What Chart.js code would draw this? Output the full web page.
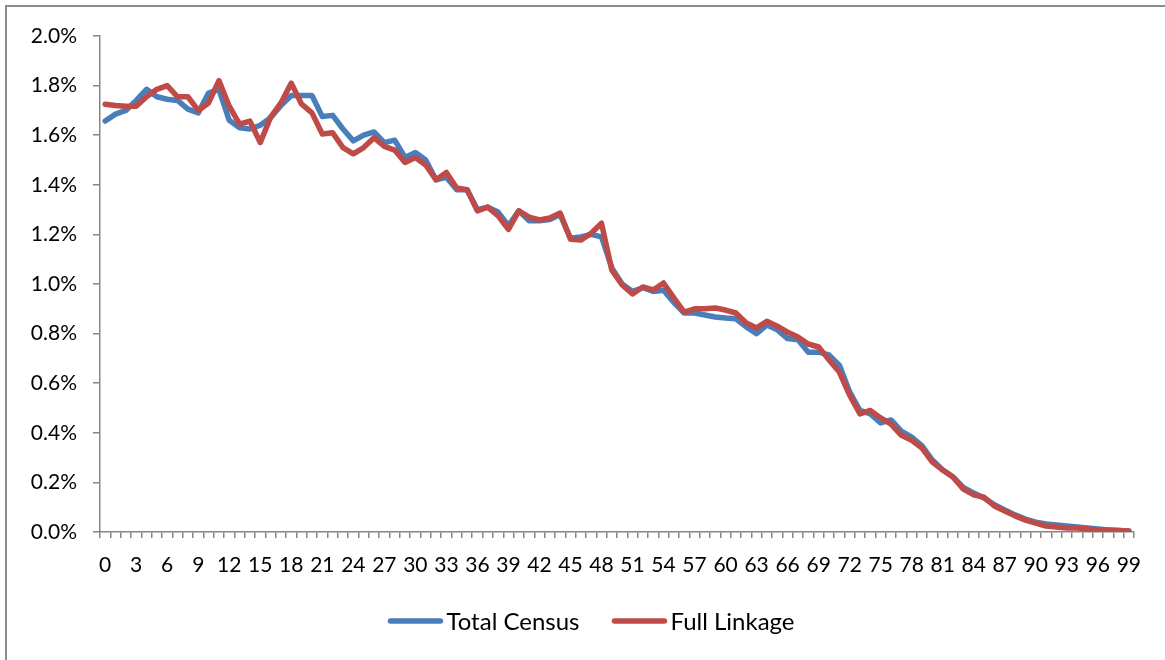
<!DOCTYPE html>
<html>
<head>
<meta charset="utf-8">
<script src="https://cdn.jsdelivr.net/npm/chart.js@4/dist/chart.umd.min.js"></script>
<style>
  html, body { margin: 0; padding: 0; background: #ffffff; }
  #wrap { width: 1165px; height: 660px; position: relative; }
</style>
</head>
<body>
<div id="wrap"><canvas id="c" width="1165" height="660"></canvas></div>
<script>
// Ages 0..99 (category labels)
const ages = Array.from({length: 100}, (_, i) => String(i));
// Tick labels shown every third age
const shownAgeLabels = ['0','3','6','9','12','15','18','21','24','27','30','33','36','39','42','45','48','51','54','57','60','63','66','69','72','75','78','81','84','87','90','93','96','99'];

const seriesNames = ['Total Census', 'Full Linkage'];
const seriesColors = ['#4a7ebb', '#be4b48'];

// Share of population at each age (%)
const totalCensus = [
  1.657, 1.685, 1.700, 1.740, 1.785, 1.755, 1.745, 1.740, 1.705, 1.690,
  1.770, 1.785, 1.660, 1.630, 1.625, 1.640, 1.670, 1.720, 1.760, 1.760,
  1.760, 1.675, 1.680, 1.625, 1.577, 1.600, 1.613, 1.570, 1.580, 1.510,
  1.530, 1.500, 1.420, 1.430, 1.380, 1.380, 1.300, 1.310, 1.290, 1.235,
  1.295, 1.255, 1.255, 1.260, 1.280, 1.185, 1.190, 1.200, 1.190, 1.065,
  1.000, 0.970, 0.985, 0.970, 0.975, 0.925, 0.883, 0.883, 0.875, 0.867,
  0.863, 0.860, 0.827, 0.800, 0.835, 0.815, 0.780, 0.775, 0.725, 0.725,
  0.714, 0.673, 0.565, 0.490, 0.476, 0.440, 0.452, 0.407, 0.383, 0.347,
  0.290, 0.250, 0.222, 0.180, 0.157, 0.137, 0.110, 0.089, 0.069, 0.052,
  0.040, 0.032, 0.028, 0.024, 0.020, 0.016, 0.012, 0.008, 0.006, 0.004
];
const fullLinkage = [
  1.725, 1.720, 1.717, 1.717, 1.755, 1.785, 1.800, 1.755, 1.755, 1.700,
  1.730, 1.820, 1.717, 1.645, 1.657, 1.570, 1.673, 1.730, 1.810, 1.725,
  1.690, 1.605, 1.610, 1.550, 1.525, 1.550, 1.590, 1.555, 1.540, 1.490,
  1.510, 1.480, 1.420, 1.450, 1.387, 1.380, 1.295, 1.310, 1.275, 1.220,
  1.295, 1.270, 1.258, 1.266, 1.286, 1.180, 1.177, 1.205, 1.245, 1.056,
  0.996, 0.960, 0.988, 0.976, 1.004, 0.944, 0.887, 0.900, 0.900, 0.903,
  0.895, 0.883, 0.843, 0.823, 0.850, 0.830, 0.806, 0.786, 0.758, 0.746,
  0.694, 0.645, 0.552, 0.476, 0.490, 0.460, 0.435, 0.390, 0.370, 0.338,
  0.282, 0.250, 0.222, 0.173, 0.150, 0.140, 0.105, 0.085, 0.065, 0.048,
  0.036, 0.024, 0.020, 0.016, 0.016, 0.012, 0.008, 0.008, 0.006, 0.004
];

const yTicks = [0, 0.2, 0.4, 0.6, 0.8, 1.0, 1.2, 1.4, 1.6, 1.8, 2.0];

const FONT = 'Lato, "Open Sans", "DejaVu Sans", sans-serif';
const AXIS = '#868686';

const framePlugin = {
  id: 'frame',
  beforeDraw(chart) {
    const ctx = chart.ctx;
    ctx.save();
    ctx.fillStyle = '#ffffff';
    ctx.fillRect(0, 0, chart.width, chart.height);
    ctx.strokeStyle = '#8c8c8c';
    ctx.lineWidth = 2;
    ctx.beginPath();
    ctx.moveTo(6, 670);
    ctx.lineTo(6, 6);
    ctx.lineTo(1170, 6);
    ctx.stroke();
    ctx.restore();
  }
};

// Legend drawn below the axis: short line swatch followed by the series name
const legendPlugin = {
  id: 'bottomLegend',
  afterDraw(chart) {
    const ctx = chart.ctx;
    const y = 621;
    const lineLen = 54, textGap = 4, itemGap = 33, centerX = 591.5;
    ctx.save();
    ctx.font = '24px ' + FONT;
    const items = chart.data.datasets.map((ds) => ({
      label: ds.label, color: ds.borderColor, w: ctx.measureText(ds.label).width
    }));
    let total = 0;
    items.forEach((it, i) => { total += lineLen + textGap + it.w + (i ? itemGap : 0); });
    let x = centerX - total / 2;
    items.forEach((it) => {
      ctx.strokeStyle = it.color;
      ctx.lineWidth = 5.5;
      ctx.lineCap = 'round';
      ctx.beginPath();
      ctx.moveTo(x + 2, y);
      ctx.lineTo(x + lineLen - 2, y);
      ctx.stroke();
      ctx.fillStyle = '#000000';
      ctx.textBaseline = 'middle';
      ctx.textAlign = 'left';
      ctx.fillText(it.label, x + lineLen + textGap, y + 1);
      x += lineLen + textGap + it.w + itemGap;
    });
    ctx.restore();
  }
};

new Chart(document.getElementById('c'), {
  type: 'line',
  data: {
    labels: ages,
    datasets: [
      {
        label: seriesNames[0],
        data: totalCensus,
        borderColor: seriesColors[0],
        backgroundColor: seriesColors[0],
        borderWidth: 5.5,
        pointRadius: 0,
        tension: 0,
        borderJoinStyle: 'round',
        borderCapStyle: 'round',
        order: 1
      },
      {
        label: seriesNames[1],
        data: fullLinkage,
        borderColor: seriesColors[1],
        backgroundColor: seriesColors[1],
        borderWidth: 5.5,
        pointRadius: 0,
        tension: 0,
        borderJoinStyle: 'round',
        borderCapStyle: 'round',
        order: 0
      }
    ]
  },
  options: {
    responsive: false,
    animation: false,
    devicePixelRatio: 1,
    layout: { padding: { left: 8, right: 31, top: 36, bottom: 58 } },
    plugins: {
      tooltip: { enabled: false },
      legend: { display: false }
    },
    scales: {
      x: {
        type: 'category',
        offset: true,
        grid: {
          display: true,
          offset: true,
          drawOnChartArea: false,
          drawTicks: true,
          tickLength: 6,
          color: AXIS,
          lineWidth: 1.5
        },
        border: { color: AXIS, width: 1.5 },
        ticks: {
          autoSkip: false,
          maxRotation: 0,
          minRotation: 0,
          padding: 15,
          color: '#000000',
          font: { family: FONT, size: 21 },
          callback: function (v, i) {
            const lab = ages[i];
            return shownAgeLabels.includes(lab) ? lab : '';
          }
        },
        afterFit: (s) => { s.height = 70; }
      },
      y: {
        min: 0,
        max: 2.0,
        afterBuildTicks: (s) => { s.ticks = yTicks.map(v => ({ value: v })); },
        grid: {
          display: true,
          drawOnChartArea: false,
          drawTicks: true,
          tickLength: 7,
          color: AXIS,
          lineWidth: 1.5
        },
        border: { color: AXIS, width: 1.5 },
        ticks: {
          padding: 16,
          color: '#000000',
          font: { family: FONT, size: 21 },
          callback: (v) => v.toFixed(1) + '%'
        },
        afterFit: (s) => { s.width = 92; }
      }
    }
  },
  plugins: [framePlugin, legendPlugin]
});
</script>
</body>
</html>
